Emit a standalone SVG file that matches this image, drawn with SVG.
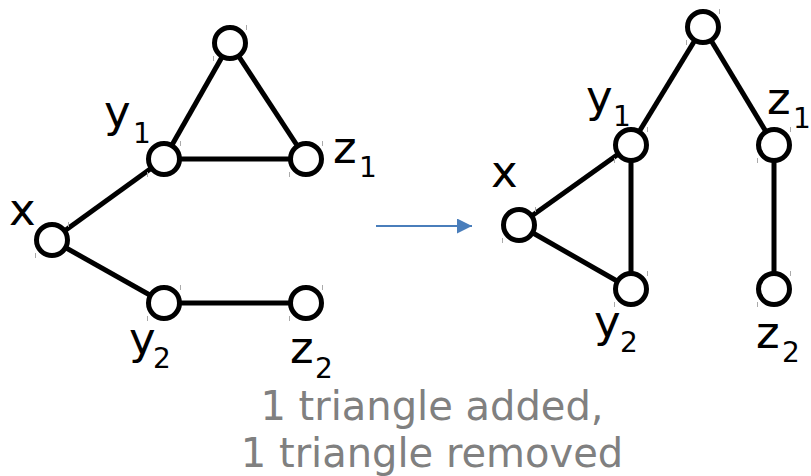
<svg xmlns="http://www.w3.org/2000/svg" width="811" height="476" viewBox="0 0 811 476">
<style>
.e{stroke:#000;stroke-width:5;fill:none}
.n{fill:#fff;stroke:#000;stroke-width:5}
.t{stroke:#aaa;stroke-width:1}
.lb{font-family:"DejaVu Sans",sans-serif;font-size:45px;fill:#000}
.sb{font-family:"DejaVu Sans",sans-serif;font-size:28px;fill:#000}
.cap{font-family:"DejaVu Sans",sans-serif;font-size:40px;fill:#808080;text-anchor:middle}
</style>
<defs>
<marker id="ah" markerWidth="16" markerHeight="16" refX="15" refY="7.5" orient="auto" markerUnits="userSpaceOnUse">
<path d="M0,0 L15,7.5 L0,15 Z" fill="#4a7ebb"/>
</marker>
<g id="tk"><line class="t" x1="16.5" y1="-18" x2="16.5" y2="-13"/><line class="t" x1="-16.5" y1="13" x2="-16.5" y2="18"/></g>
</defs>
<g id="connectors">
<line class="e" x1="230" y1="43" x2="164" y2="159"/>
<line class="e" x1="230" y1="43" x2="306" y2="159"/>
<line class="e" x1="164" y1="159" x2="306" y2="159"/>
<line class="e" x1="52" y1="240" x2="164" y2="159"/>
<line class="e" x1="52" y1="240" x2="164" y2="303"/>
<line class="e" x1="164" y1="303" x2="306" y2="303"/>
<line class="e" x1="703" y1="27" x2="631" y2="145"/>
<line class="e" x1="703" y1="27" x2="774" y2="145"/>
<line class="e" x1="519" y1="225" x2="631" y2="145"/>
<line class="e" x1="519" y1="225" x2="631" y2="289"/>
<line class="e" x1="631" y1="145" x2="631" y2="289"/>
<line class="e" x1="774" y1="145" x2="774" y2="289"/>
<line x1="376" y1="226" x2="472" y2="226" stroke="#4a7ebb" stroke-width="2" marker-end="url(#ah)"/>
</g>
<g id="L_top"><circle class="n" cx="230" cy="43" r="15.5"/><use href="#tk" x="230" y="43"/></g>
<g id="L_y1"><circle class="n" cx="164" cy="159" r="15.5"/><use href="#tk" x="164" y="159"/><text class="lb" x="104" y="127">y</text><text class="sb" x="133" y="143">1</text></g>
<g id="L_z1"><circle class="n" cx="306" cy="159" r="15.5"/><use href="#tk" x="306" y="159"/><text class="lb" x="333" y="163">z</text><text class="sb" x="359" y="177">1</text></g>
<g id="L_x"><circle class="n" cx="52" cy="240" r="15.5"/><use href="#tk" x="52" y="240"/><text class="lb" x="9" y="225">x</text></g>
<g id="L_y2"><circle class="n" cx="164" cy="303" r="15.5"/><use href="#tk" x="164" y="303"/><text class="lb" x="129" y="354">y</text><text class="sb" x="153" y="368">2</text></g>
<g id="L_z2"><circle class="n" cx="306" cy="303" r="15.5"/><use href="#tk" x="306" y="303"/><text class="lb" x="290" y="363">z</text><text class="sb" x="315" y="378">2</text></g>
<g id="R_top"><circle class="n" cx="703" cy="27" r="15.5"/><use href="#tk" x="703" y="27"/></g>
<g id="R_y1"><circle class="n" cx="631" cy="145" r="15.5"/><use href="#tk" x="631" y="145"/><text class="lb" x="586" y="112">y</text><text class="sb" x="613" y="126">1</text></g>
<g id="R_z1"><circle class="n" cx="774" cy="145" r="15.5"/><use href="#tk" x="774" y="145"/><text class="lb" x="767" y="114">z</text><text class="sb" x="793" y="128">1</text></g>
<g id="R_x"><circle class="n" cx="519" cy="225" r="15.5"/><use href="#tk" x="519" y="225"/><text class="lb" x="491" y="187">x</text></g>
<g id="R_y2"><circle class="n" cx="631" cy="289" r="15.5"/><use href="#tk" x="631" y="289"/><text class="lb" x="594" y="337">y</text><text class="sb" x="620" y="352">2</text></g>
<g id="R_z2"><circle class="n" cx="774" cy="289" r="15.5"/><use href="#tk" x="774" y="289"/><text class="lb" x="756" y="348">z</text><text class="sb" x="782" y="362">2</text></g>
<g id="caption"><text class="cap" x="432" y="420">1 triangle added,</text><text class="cap" x="432" y="467">1 triangle removed</text></g>
</svg>
